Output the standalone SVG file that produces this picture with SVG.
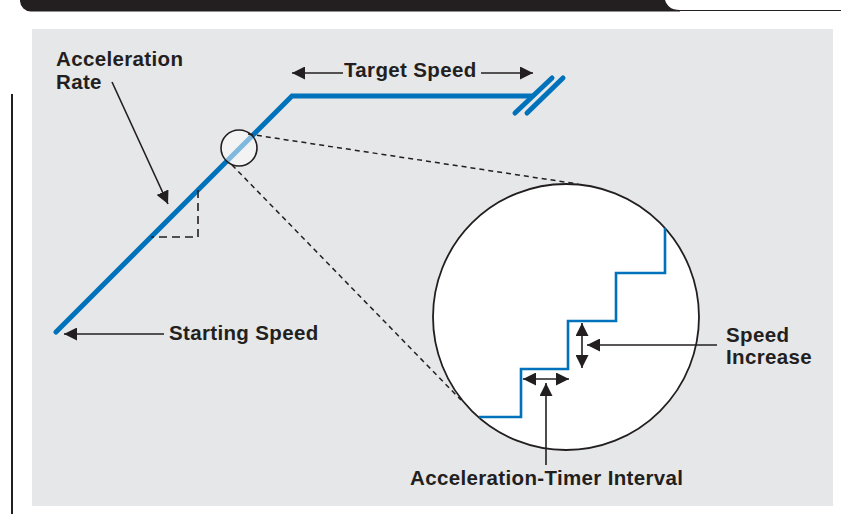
<svg xmlns="http://www.w3.org/2000/svg" width="841" height="514" viewBox="0 0 841 514">
<defs>
<style>
.lbl{font-family:"Liberation Sans",Arial,sans-serif;font-weight:bold;font-size:20.5px;letter-spacing:0.35px;fill:#231f20}
.ptr{stroke:#231f20;stroke-width:1.6;fill:none}
.blue{stroke:#0072bc;fill:none}
.dash{stroke:#231f20;stroke-width:1.5;fill:none;stroke-dasharray:5 4}
</style>
<marker id="ah" viewBox="0 0 13 13" refX="13" refY="6.5" markerWidth="13" markerHeight="13" markerUnits="userSpaceOnUse" orient="auto-start-reverse">
<path d="M0,0 L13,6.5 L0,13 Z" fill="#231f20"/>
</marker>
</defs>
<rect width="841" height="514" fill="#ffffff"/>
<g id="header">
<path d="M20,0 H665 C667,6 671,10 680,10 V11.5 H31 A11,11 0 0 1 20,1 Z" fill="#231f20"/>
<line x1="680" y1="10.5" x2="841" y2="10.5" stroke="#231f20" stroke-width="1.2"/>
<line x1="12" y1="94" x2="12" y2="514" stroke="#231f20" stroke-width="2"/>
</g>
<rect id="panel" x="32" y="29" width="801" height="477" fill="#e6e7e8"/>
<g id="graph">
<polyline class="blue" points="56,332 292,96 532,96" stroke-width="5" stroke-linecap="round" stroke-linejoin="miter"/>
<line class="blue" x1="515" y1="113" x2="552" y2="78" stroke-width="5" stroke-linecap="round"/>
<line class="blue" x1="527" y1="113" x2="563" y2="78" stroke-width="5" stroke-linecap="round"/>
<polyline points="198,190 198,237 151,237" fill="none" stroke="#231f20" stroke-width="1.6" stroke-dasharray="8 5"/>
</g>
<g id="zoom-circle">
<circle cx="239" cy="148" r="18" fill="#ffffff" fill-opacity="0.5" stroke="#231f20" stroke-width="1.6"/>
</g>
<g id="connectors">
<line class="dash" x1="248" y1="134" x2="578" y2="184"/>
<line class="dash" x1="232" y1="165" x2="461" y2="400"/>
<line class="ptr" x1="112" y1="82" x2="168" y2="204" marker-end="url(#ah)"/>
<line class="ptr" x1="343" y1="73" x2="292" y2="73" marker-end="url(#ah)"/>
<line class="ptr" x1="481" y1="73" x2="533" y2="73" marker-end="url(#ah)"/>
<line class="ptr" x1="164" y1="334" x2="64" y2="334" marker-end="url(#ah)"/>
</g>
<g id="detail">
<circle cx="566" cy="317" r="133" fill="#ffffff" stroke="#231f20" stroke-width="1.8"/>
<polyline class="blue" points="479,417 521,417 521,369 568,369 568,321 616,321 616,273 665,273 665,228" stroke-width="2.6"/>
<line class="ptr" x1="523" y1="379" x2="569" y2="379" marker-start="url(#ah)" marker-end="url(#ah)"/>
<line class="ptr" x1="582" y1="323" x2="582" y2="368" marker-start="url(#ah)" marker-end="url(#ah)"/>
<line class="ptr" x1="717" y1="345" x2="587" y2="345" marker-end="url(#ah)"/>
<line class="ptr" x1="546" y1="465" x2="546" y2="383" marker-end="url(#ah)"/>
</g>
<g id="labels">
<text class="lbl" x="56" y="66">Acceleration</text>
<text class="lbl" x="56" y="89">Rate</text>
<text class="lbl" x="344" y="77">Target Speed</text>
<text class="lbl" x="169" y="340">Starting Speed</text>
<text class="lbl" x="726" y="342">Speed</text>
<text class="lbl" x="726" y="364">Increase</text>
<text class="lbl" x="410" y="485">Acceleration-Timer Interval</text>
</g>
</svg>
